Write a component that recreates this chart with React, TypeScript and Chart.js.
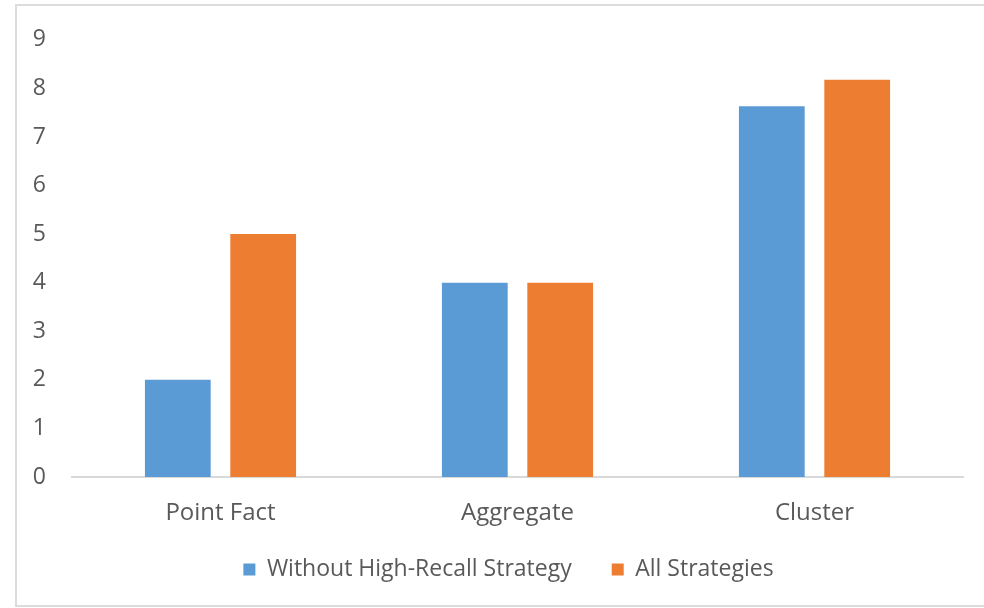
import React, { useEffect, useRef } from "react";
import { Chart, registerables } from "chart.js";

Chart.register(...registerables);

const categories = ["Point Fact", "Aggregate", "Cluster"];
const withoutHighRecall = [2, 4, 7.63];
const allStrategies = [5, 4, 8.18];
const seriesNames = ["Without High-Recall Strategy", "All Strategies"];
const yTicks = [0, 1, 2, 3, 4, 5, 6, 7, 8, 9];

const BLUE = "#5B9BD5";
const ORANGE = "#ED7D31";
const TEXT = "#595959";
const FONT = "'Open Sans', sans-serif";

const legendShift = {
  id: "legendShift",
  afterLayout(chart: any) {
    const lg = chart.legend;
    if (!lg) return;
    lg.top -= 12;
    lg.bottom -= 12;
    lg.left += 27;
    lg.right += 27;
  },
};

export default function App() {
  const ref = useRef<HTMLCanvasElement | null>(null);

  useEffect(() => {
    document.body.style.margin = "0";
    const ctx = ref.current!.getContext("2d")!;
    const chart = new Chart(ctx, {
      type: "bar",
      data: {
        labels: categories,
        datasets: [
          { label: seriesNames[0], data: withoutHighRecall, backgroundColor: BLUE, borderWidth: 0 },
          { label: seriesNames[1], data: allStrategies, backgroundColor: ORANGE, borderWidth: 0 },
        ],
      },
      options: {
        animation: false,
        responsive: false,
        devicePixelRatio: 1,
        categoryPercentage: 0.575,
        barPercentage: 0.77,
        layout: { padding: { left: 0, right: 21, top: 32, bottom: 5 } },
        plugins: {
          tooltip: { enabled: false },
          legend: {
            position: "bottom",
            labels: {
              color: TEXT,
              font: { family: FONT, size: 23 },
              boxWidth: 12,
              boxHeight: 12,
              padding: 40,
            },
          },
        },
        scales: {
          x: {
            afterFit: (s: any) => { s.height = 53; },
            grid: { display: false, drawTicks: false },
            border: { display: true, color: "#d9d9d9", width: 2 },
            ticks: { color: TEXT, font: { family: FONT, size: 24 }, padding: 22 },
          },
          y: {
            min: 0,
            max: 9,
            afterFit: (s: any) => { s.width = 72; },
            afterBuildTicks: (s: any) => { s.ticks = yTicks.map((v) => ({ value: v })); },
            grid: { display: false, drawTicks: false },
            border: { display: false },
            ticks: { color: TEXT, font: { family: FONT, size: 23 }, padding: 26, stepSize: 1 },
          },
        },
      },
      plugins: [legendShift],
    });
    return () => chart.destroy();
  }, []);

  return (
    <div style={{ position: "relative", width: 984, height: 608, background: "#fff" }}>
      <canvas ref={ref} width={984} height={608} style={{ position: "absolute", left: 0, top: 0 }} />
      <div
        style={{
          position: "absolute",
          left: 15,
          top: 4,
          width: 969,
          height: 603,
          boxSizing: "border-box",
          borderLeft: "2px solid #dcdcdc",
          borderTop: "2px solid #dcdcdc",
          borderBottom: "2px solid #dcdcdc",
          pointerEvents: "none",
        }}
      />
    </div>
  );
}
